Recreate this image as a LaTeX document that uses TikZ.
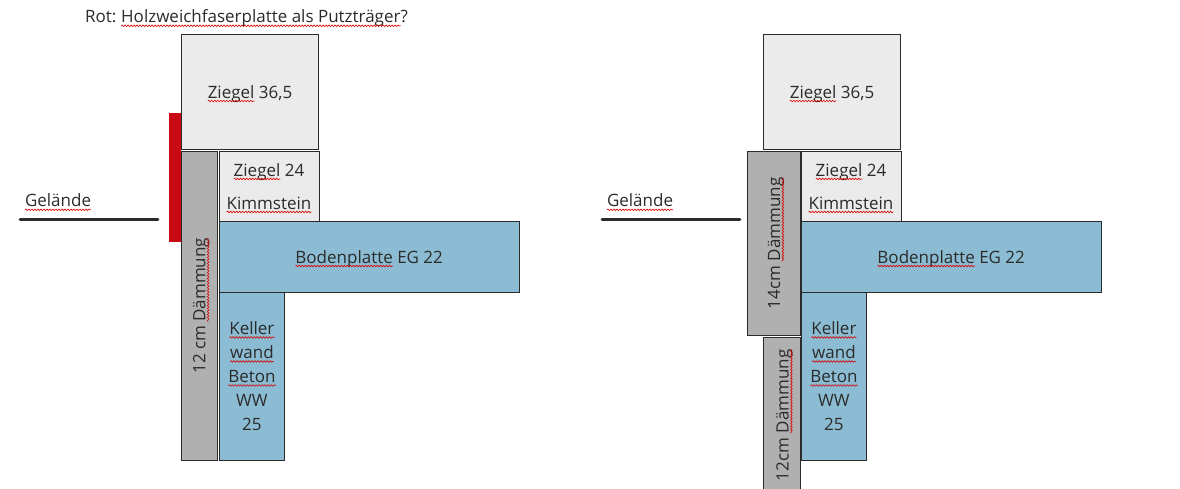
\documentclass[tikz,border=0pt]{standalone}
\usepackage{fontspec}
\setmainfont{Open Sans}
\usepackage{xcolor}
\usetikzlibrary{calc,decorations.pathmorphing,positioning}
\definecolor{inktxt}{HTML}{2B2B2B}
\definecolor{ziegelgrau}{HTML}{EBEBEB}
\definecolor{daemmgrau}{HTML}{B0B0B0}
\definecolor{betonblau}{HTML}{8BBCD3}
\definecolor{putzrot}{HTML}{C90A14}
\tikzset{%
	bauteil/.style  = {draw=inktxt, line width=0.9pt, rectangle, inner sep=0pt, outer sep=0pt, text=inktxt, align=center},
	ziegel/.style   = {bauteil, fill=ziegelgrau},
	daemmung/.style = {bauteil, fill=daemmgrau, rotate=90},
	beton/.style    = {bauteil, fill=betonblau},
	putz/.style     = {rectangle, fill=putzrot, inner sep=0pt, outer sep=0pt},
	beschrift/.style= {text=inktxt, inner sep=0pt, outer sep=0pt},
	gelaende/.style = {draw=inktxt, line width=2.6pt, line cap=round},
	kringel/.style  = {draw=red!85!black, line width=0.6pt, overlay, decorate, decoration={snake, amplitude=0.8pt, segment length=3pt}},
}
\newcommand{\sq}[1]{\tikz[baseline=(w.base)]{\node[inner sep=0pt,outer sep=0pt,minimum width=0pt,minimum height=0pt,rotate=0,rectangle,draw=none,fill=none,text=inktxt](w){#1}; \draw[kringel] ($(w.base west)+(0,-2.8pt)$) -- ($(w.base east)+(0,-2.8pt)$);}}
\newcommand{\tiefer}[2]{\raisebox{-#1}[\height][\depth]{#2}}
\newcommand{\wsize}{\fontsize{17}{24}\selectfont}

\begin{document}
\begin{tikzpicture}[x=1pt,y=-1pt,every node/.append style={font=\wsize}]
	\clip (0,0) rectangle (1180,489);
	\useasboundingbox (0,0) rectangle (1180,489);

	\node[beschrift,anchor=base west] (titel) at (85,23) {Rot:\hspace{-1pt} \sq{Holzweichfaserplatte als Putzträger}?};

	% left and right detail share these parts
	\foreach \s/\dx in {l/0,r/582} {
		\node[ziegel,minimum width=137.6pt,minimum height=115.5pt] (ziegelgross\s) at (250+\dx,91.8) {\tiefer{2pt}{\sq{Ziegel} 36,5}};
		\node[ziegel,minimum width=100pt,minimum height=70pt] (ziegelklein\s) at (269+\dx,186.3) {\sq{Ziegel} 24\\[9pt]\sq{Kimmstein}};
		\node[beton,minimum width=300pt,minimum height=71pt] (boden\s) at (369.2+\dx,256.8) {\tiefer{2pt}{\sq{Bodenplatte} EG 22}};
		\node[beton,minimum width=65.5pt,minimum height=168pt] (keller\s) at (251.9+\dx,376.3) {\sq{Keller}\\\sq{wand}\\\sq{Beton}\\WW\\25};
		\node[beschrift,anchor=base west] (gel\s) at (25+\dx,207) {\sq{Gelände}};
		\coordinate (gelstart\s) at (20+\dx,219.3);
		\coordinate (gelend\s) at (158+\dx,219.3);
		\draw[gelaende] (gelstart\s) -- (gelend\s);
	}

	% left only
	\node[putz,minimum width=11.5pt,minimum height=129pt] (rot) at (175,177.5) {};
	\node[daemmung,minimum width=309pt,minimum height=36pt] (daemmlang) at (199.2,305.8) {\tiefer{2pt}{12 cm \sq{Dämmung}}};

	% right only
	\node[daemmung,minimum width=184pt,minimum height=53.4pt] (daemmoben) at (774,243.3) {\tiefer{2pt}{14cm \sq{Dämmung}}};
	\node[daemmung,minimum width=156pt,minimum height=37.4pt] (daemmunten) at (782,415.3) {\tiefer{2.5pt}{12cm \sq{Dämmung}}};
\end{tikzpicture}
\end{document}
